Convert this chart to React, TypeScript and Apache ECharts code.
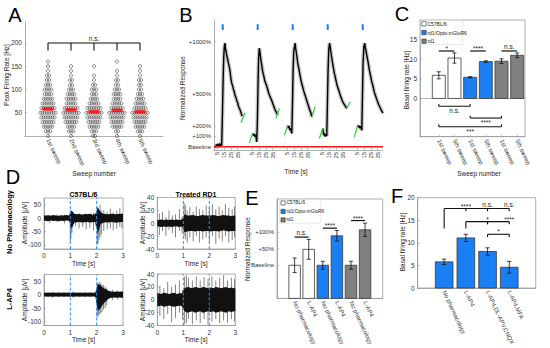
import React, { useEffect, useRef } from "react";
import * as echarts from "echarts";

const FONT = "'Liberation Sans', Arial, Helvetica, sans-serif";
const BLUE = "#1a7ff2";
const GRAY = "#808080";
const WHITE = "#ffffff";

// ---------------- Panel A: peak firing rate per sweep ----------------
const sweepNames = ["1st sweep", "2nd sweep", "3rd sweep", "4th sweep", "5th sweep"];
const rateLevels = [0, 10, 20, 30, 40, 50, 60, 70, 80, 90, 100, 110, 120, 130, 140, 150, 160];
const countsSweep1 = [1, 3, 5, 6, 7, 8, 7, 6, 5, 4, 4, 3, 2, 2, 1, 1, 1];
const countsSweep2 = [1, 3, 4, 6, 7, 8, 7, 5, 5, 4, 3, 2, 2, 1, 1, 1, 0];
const countsSweep3 = [2, 3, 5, 6, 7, 8, 7, 5, 4, 3, 3, 2, 1, 1, 0, 1, 0];
const countsSweep4 = [1, 2, 5, 6, 7, 8, 6, 5, 4, 4, 3, 2, 2, 1, 1, 0, 1];
const countsSweep5 = [1, 3, 5, 6, 7, 8, 6, 5, 4, 3, 2, 2, 2, 1, 1, 1, 0];
const sweepMeanRates = [58, 56, 52, 55, 52];
const aYTicks = [50, 100, 150, 200];

// ---------------- Panel B: normalized response over 5 sweeps ----------------
const sweepWindow = 52; // seconds reserved per concatenated sweep
const timeTicks = [5, 15, 25, 35];
const stimTime = 12.9;
const responseTicks = [0, 100, 200, 500, 1000];
const traceSweep1 = [[1.5, 10], [2.5, -5], [3.5, 22], [4.5, 5], [5.5, 28], [6.5, 0], [7.5, 15], [8.5, 32], [9.5, 5], [10.5, 22], [11.4, 12], [12.5, 300], [13.5, 620], [14.5, 860], [15.5, 960], [16.3, 985], [17, 935], [18, 905], [18.8, 870], [19.8, 845], [21.3, 800], [22.5, 765], [23.8, 720], [24.8, 665], [26.3, 605], [27.5, 585], [28.7, 550], [30, 525], [31.2, 490], [32.4, 472], [33.7, 440], [34.9, 425], [36.1, 390], [37.3, 372], [38.6, 352], [39.8, 332], [41.1, 302], [42, 290]];
const traceSweep2 = [[5.5, 127], [6.5, 108], [7.5, 122], [8.5, 98], [9.5, 116], [10.5, 94], [11.4, 48], [12.3, 210], [13.3, 560], [14.3, 850], [15.3, 937], [16.3, 895], [17.3, 842], [18.8, 782], [20.3, 715], [22, 672], [23.7, 620], [25.5, 592], [27.2, 556], [29.2, 512], [31.2, 477], [33.6, 442], [36.1, 398], [38.1, 362], [40.1, 334], [42.6, 302]];
const traceSweep3 = [[5.5, 200], [6.5, 178], [7.5, 196], [8.5, 160], [9.5, 176], [10.5, 150], [11.5, 128], [12.4, 360], [13.4, 710], [14.4, 905], [16.4, 985], [17.4, 930], [18.8, 872], [20.3, 800], [22, 742], [23.7, 682], [25.5, 622], [27.2, 582], [29.2, 532], [31.2, 492], [33.6, 442], [36.1, 392], [38.1, 352], [40.1, 318], [41.2, 286]];
const traceSweep4 = [[5.5, 174], [6.5, 128], [7.5, 110], [8.5, 126], [9.5, 98], [10.5, 120], [11.5, 104], [12.4, 400], [13.4, 722], [14.4, 918], [15.6, 985], [16.6, 948], [18, 882], [19.5, 822], [21, 762], [22.7, 700], [24.4, 652], [26.2, 600], [28, 562], [30, 522], [32, 482], [34.2, 442], [36.5, 412], [38.8, 390], [41.2, 366]];
const traceSweep5 = [[5.5, 206], [6.5, 188], [7.5, 200], [8.5, 178], [9.5, 196], [10.5, 175], [11.5, 158], [12.4, 450], [13.4, 800], [14.6, 950], [15.8, 985], [16.8, 940], [18, 902], [19.5, 850], [21, 800], [22.7, 732], [24.4, 680], [26.2, 622], [28, 580], [30, 522], [32, 482], [34.2, 442], [36.5, 402], [38.8, 372], [41, 342], [43, 320]];
const fitStartLines = [[0.5, 38, 5.5, 127], [0.5, 111, 5.5, 206], [0.5, 79, 5.5, 174], [0.5, 95, 5.5, 206]]; // sweeps 2..5
const fitEndLines = [[40.1, 229, 46, 324], [40.1, 270, 45.1, 366], [41.2, 280, 46.1, 381], [41.2, 366, 46.1, 429]]; // sweeps 1..4

// ---------------- Panel C: basal firing rate, 1st vs 5th sweep ----------------
const cCategories = ["1st sweep", "5th sweep", "1st sweep", "5th sweep", "1st sweep", "5th sweep"];
const cMeans = [5.9, 10.3, 5.4, 9.4, 9.5, 11.0];
const cErrors = [0.9, 1.3, 0.15, 0.2, 0.6, 0.6];
const cYTicks = [0, 5, 10, 15];
const groupNames = ["C57BL/6", "rd1/Opto-mGluR6", "rd1"];
const cSigTop = [[1, 2, 12.1], [3, 4, 12.1], [5, 6, 12.1]];
const cSigTopText = ["*", "****", "n.s."];
const cSigBottom = [[1, 3, -2.0], [3, 5, -5.0], [1, 5, -7.2]];
const cSigBottomText = ["n.s.", "****", "***"];

// ---------------- Panel D: example recordings (envelopes per 0.1 s + spikes) ----------------
const binWidth = 0.1;
const d1High = [10, 11, 9, 12, 10, 9, 11, 10, 12, 10, 28, 16, 14, 15, 13, 15, 14, 16, 13, 15, 40, 22, 16, 15, 14, 16, 15, 14, 16, 15];
const d1Low = [-10, -12, -9, -11, -10, -12, -10, -11, -9, -10, -40, -17, -15, -14, -16, -15, -14, -16, -15, -14, -55, -22, -17, -15, -16, -14, -15, -17, -15, -14];
const d1Spikes = [[0.22, -18, 12], [0.5, -15, 14], [0.78, -20, 13], [1.0, -88, 30], [1.02, -75, 20], [1.06, -55, 18], [1.2, -30, 16], [1.33, -38, 18], [1.47, -33, 15], [1.6, -42, 18], [1.74, -35, 16], [1.88, -45, 20], [1.97, -30, 18], [2.02, -100, 42], [2.05, -95, 35], [2.09, -80, 25], [2.13, -70, 50], [2.18, -60, 28], [2.27, -48, 30], [2.4, -42, 24], [2.52, -38, 35], [2.63, -45, 22], [2.76, -40, 28], [2.88, -32, 38], [2.96, -38, 20]];
const d2High = [5, 6, 5, 6, 5, 6, 5, 6, 5, 6, 14, 12, 12, 13, 12, 11, 12, 13, 12, 12, 12, 13, 12, 11, 12, 13, 12, 12, 11, 12];
const d2Low = [-5, -6, -5, -6, -5, -6, -5, -5, -6, -5, -14, -13, -12, -12, -13, -12, -12, -13, -12, -12, -13, -12, -12, -13, -12, -11, -12, -13, -12, -12];
const d2Spikes = [[0.08, -18, 15], [0.2, -12, 18], [0.33, -20, 10], [0.45, -10, 20], [0.58, -15, 12], [0.7, -22, 14], [0.85, -12, 22], [0.95, -16, 10], [1.03, -20, 32], [1.08, -25, 28], [1.15, -30, 20], [1.25, -22, 25], [1.38, -28, 18], [1.5, -20, 26], [1.62, -30, 22], [1.75, -25, 20], [1.88, -22, 28], [2.0, -28, 24], [2.12, -20, 30], [2.25, -32, 22], [2.38, -24, 26], [2.5, -28, 20], [2.62, -20, 30], [2.75, -30, 24], [2.88, -26, 22], [2.97, -22, 26]];
const d3High = [7, 8, 7, 8, 7, 8, 7, 8, 7, 8, 7, 8, 7, 8, 7, 8, 7, 8, 7, 8, 40, 35, 25, 20, 14, 12, 11, 12, 11, 12];
const d3Low = [-7, -8, -7, -8, -7, -8, -7, -8, -7, -8, -7, -8, -7, -8, -7, -8, -7, -8, -7, -8, -60, -50, -35, -25, -15, -12, -11, -12, -11, -12];
const d3Spikes = [[0.3, -12, 10], [1.1, -12, 11], [2.02, -85, 45], [2.06, -80, 40], [2.1, -75, 48], [2.15, -70, 42], [2.2, -65, 38], [2.26, -55, 35], [2.32, -50, 30], [2.38, -40, 25], [2.6, -20, 18], [2.8, -18, 15]];
const d4High = [10, 9, 11, 10, 9, 10, 11, 9, 10, 10, 18, 20, 19, 18, 20, 19, 18, 20, 19, 18, 19, 18, 20, 19, 18, 19, 20, 18, 19, 18];
const d4Low = [-10, -9, -11, -10, -9, -10, -11, -10, -9, -10, -18, -20, -19, -18, -20, -19, -18, -20, -19, -18, -19, -18, -20, -19, -18, -19, -20, -18, -19, -18];
const d4Spikes = [[0.1, -25, 22], [0.25, -30, 18], [0.4, -22, 28], [0.55, -35, 20], [0.7, -28, 24], [0.85, -20, 30], [0.97, -30, 15], [1.05, -38, 36], [1.12, -36, 38], [1.2, -30, 34], [1.35, -38, 30], [1.5, -32, 36], [1.65, -36, 30], [1.8, -30, 35], [1.95, -38, 32], [2.1, -34, 36], [2.25, -30, 30], [2.4, -36, 34], [2.55, -32, 38], [2.7, -36, 30], [2.85, -30, 34], [2.97, -34, 32]];
const lightTimes = [1, 2];
const dBigTicks = [-100, -50, 0, 50];

// ---------------- Panel E: normalized response with L-AP4 ----------------
const eCategories = ["No pharmacology", "L-AP4", "No pharmacology", "L-AP4", "No pharmacology", "L-AP4"];
const eMeans = [1.0, 1.48, 1.0, 1.89, 1.0, 2.07];
const eErrors = [0.22, 0.3, 0.12, 0.16, 0.12, 0.2];
const eYTicks = [1, 1.5, 2];
const eYLabels = ["Baseline", "+50%", "+100%"];
const eSig = [[1, 2, 1.85], [3, 4, 2.12], [5, 6, 2.35]];
const eSigText = ["n.s.", "****", "****"];

// ---------------- Panel F: basal firing rate with blockers ----------------
const fCategories = ["No pharmacology", "L-AP4", "L-AP4,DL-APV,CNQX", "L-AP4,MFA"];
const fMeans = [5.8, 11.1, 8.1, 4.6];
const fErrors = [0.6, 0.8, 0.8, 1.3];
const fBrackets = [[1, 4, 17.6, 13.2], [2, 4, 14.7, 13.2], [3, 4, 11.9, 11.3]];
const fSigPos = [[2, 17.6], [3, 17.6], [4, 17.6], [3, 14.7], [4, 14.7], [3.5, 11.9]];
const fSigText = ["****", "n.s.", "n.s.", "*", "****", "*"];

// ======================================================================
const lbl = (extra: any = {}) => ({ fontSize: 6.5, color: "#333", fontFamily: FONT, margin: 3, ...extra });
const axLine = { show: true, onZero: false, lineStyle: { color: "#9a9a9a", width: 0.8 } };
const tick = (cv?: number[]) => ({ show: true, inside: true, length: 2, lineStyle: { color: "#9a9a9a", width: 0.6 }, ...(cv ? { customValues: cv } : {}) });
const ax = (g: number, min: number, max: number, label: any, tickVals?: number[], more: any = {}) => ({
  type: "value", gridIndex: g, min, max, splitLine: { show: false }, axisLine: axLine, axisTick: tick(tickVals), axisLabel: label, ...more,
});

const segSeries = (g: number, data: number[][], color: string, width: number, dash?: number[], z = 3) => ({
  type: "custom", xAxisIndex: g, yAxisIndex: g, silent: true, z, data,
  renderItem: (_p: any, api: any) => {
    const a = api.coord([api.value(0), api.value(1)]);
    const b = api.coord([api.value(2), api.value(3)]);
    return { type: "line", shape: { x1: a[0], y1: a[1], x2: b[0], y2: b[1] }, style: { stroke: color, lineWidth: width, lineDash: dash || null } };
  },
});

const textSeries = (g: number, pos: number[][], labels: string[], size: number, vAlign: string, dy: number) => ({
  type: "custom", xAxisIndex: g, yAxisIndex: g, silent: true, z: 5, data: pos,
  renderItem: (p: any, api: any) => {
    const c = api.coord([api.value(0), api.value(1)]);
    const txt = labels[p.dataIndex];
    const starShift = txt.indexOf("*") >= 0 && vAlign === "bottom" ? 2 : 0;
    return { type: "text", x: c[0], y: c[1] + dy + starShift, style: { text: txt, fontSize: size, fontFamily: FONT, fill: "#222", align: "center", verticalAlign: vAlign } };
  },
});

const barSeries = (g: number, vals: number[], colors: string[], w: number) => ({
  type: "custom", xAxisIndex: g, yAxisIndex: g, silent: true, z: 2, data: vals.map((v, i) => [i + 1, v]),
  renderItem: (p: any, api: any) => {
    const top = api.coord([api.value(0), api.value(1)]);
    const bot = api.coord([api.value(0), 0]);
    return { type: "rect", shape: { x: top[0] - w / 2, y: top[1], width: w, height: bot[1] - top[1] }, style: { fill: colors[p.dataIndex], stroke: "#3a3a3a", lineWidth: 0.8 } };
  },
});

const errSeries = (g: number, means: number[], errs: number[], cap: number) => ({
  type: "custom", xAxisIndex: g, yAxisIndex: g, silent: true, z: 4, data: means.map((m, i) => [i + 1, m, errs[i]]),
  renderItem: (_p: any, api: any) => {
    const x = api.value(0), m = api.value(1), e = api.value(2);
    const hi = api.coord([x, m + e]);
    const lo = api.coord([x, m - e]);
    const st = { stroke: "#111", lineWidth: 0.8 };
    return {
      type: "group", children: [
        { type: "line", shape: { x1: hi[0], y1: hi[1], x2: lo[0], y2: lo[1] }, style: st },
        { type: "line", shape: { x1: hi[0] - cap, y1: hi[1], x2: hi[0] + cap, y2: hi[1] }, style: st },
        { type: "line", shape: { x1: lo[0] - cap, y1: lo[1], x2: lo[0] + cap, y2: lo[1] }, style: st },
      ],
    };
  },
});

const bandSeries = (g: number, hi: number[], lo: number[]) => ({
  type: "custom", xAxisIndex: g, yAxisIndex: g, silent: true, z: 2, data: [[0, 0]],
  renderItem: (_p: any, api: any) => {
    const n = hi.length;
    const pts: number[][] = [api.coord([0, hi[0]])];
    for (let i = 0; i < n; i++) pts.push(api.coord([(i + 0.5) * binWidth, hi[i]]));
    pts.push(api.coord([n * binWidth, hi[n - 1]]));
    pts.push(api.coord([n * binWidth, lo[n - 1]]));
    for (let i = n - 1; i >= 0; i--) pts.push(api.coord([(i + 0.5) * binWidth, lo[i]]));
    pts.push(api.coord([0, lo[0]]));
    return { type: "polygon", shape: { points: pts }, style: { fill: "#111" } };
  },
});

const gtext = (x: number, y: number, text: string, size: number, o: any = {}) => ({
  type: "text", x, y, rotation: o.rot || 0, silent: true, z: 100,
  style: { text, fontSize: size, fontFamily: FONT, fontWeight: o.bold ? "bold" : "normal", fill: o.fill || "#222", align: o.align || "center", verticalAlign: "middle" },
});

function buildOption() {
  const box = { show: true, borderColor: "#9a9a9a", borderWidth: 0.8 };
  const grids = [
    { left: 25, top: 22, width: 138, height: 114 }, // A
    { left: 214, top: 20, width: 169, height: 130 }, // B
    { left: 420, top: 20, width: 105, height: 116.7, ...box }, // C
    { left: 44, top: 198, width: 79, height: 51, ...box }, // D1
    { left: 157.3, top: 197.5, width: 78, height: 51.5, ...box }, // D2
    { left: 44, top: 274.5, width: 79, height: 51, ...box }, // D3
    { left: 157.3, top: 274, width: 78, height: 51.5, ...box }, // D4
    { left: 277, top: 199, width: 105.7, height: 100, ...box }, // E
    { left: 417.7, top: 197.7, width: 118, height: 90.6, ...box }, // F
  ];

  const idx5 = [1, 2, 3, 4, 5];
  const idx6 = [1, 2, 3, 4, 5, 6];
  const idx4 = [1, 2, 3, 4];
  const bTickVals: number[] = [];
  for (let k = 0; k < 5; k++) timeTicks.forEach((t) => bTickVals.push(k * sweepWindow + t));

  const xAxis: any[] = [
    ax(0, 0, 6, lbl({ customValues: idx5, formatter: (v: number) => sweepNames[Math.round(v) - 1], rotate: -65, fontSize: 6 }), idx5),
    ax(1, 0, 251, lbl({ customValues: bTickVals, formatter: (v: number) => String(Math.round(v) % sweepWindow), rotate: 90, fontSize: 5.5, margin: 2 }), bTickVals),
    ax(2, -0.2, 6.5, lbl({ customValues: idx6, formatter: (v: number) => cCategories[Math.round(v) - 1], rotate: -65, fontSize: 6 }), idx6),
    ax(3, 0, 3, lbl(), undefined, { interval: 1 }),
    ax(4, 0, 3, lbl(), undefined, { interval: 1 }),
    ax(5, 0, 3, lbl(), undefined, { interval: 1 }),
    ax(6, 0, 3, lbl(), undefined, { interval: 1 }),
    ax(7, -0.25, 7.25, lbl({ customValues: idx6, formatter: (v: number) => eCategories[Math.round(v) - 1], rotate: -65, fontSize: 6 }), idx6),
    ax(8, -0.22, 5.22, lbl({ customValues: idx4, formatter: (v: number) => fCategories[Math.round(v) - 1], rotate: -65, fontSize: 6 }), idx4),
  ];
  const yAxis: any[] = [
    ax(0, 0, 245, lbl({ customValues: aYTicks }), aYTicks),
    ax(1, -30, 1205, lbl({ customValues: responseTicks, formatter: (v: number) => (v === 0 ? "Baseline" : "+" + v + "%"), fontSize: 6 }), responseTicks),
    ax(2, -9.75, 20, lbl({ customValues: cYTicks }), cYTicks),
    ax(3, -115, 75, lbl({ customValues: dBigTicks }), dBigTicks),
    ax(4, -40, 40, lbl(), undefined, { interval: 20 }),
    ax(5, -115, 75, lbl({ customValues: dBigTicks }), dBigTicks),
    ax(6, -40, 40, lbl(), undefined, { interval: 20 }),
    ax(7, 0, 3, lbl({ customValues: eYTicks, formatter: (v: number) => eYLabels[eYTicks.indexOf(v)] ?? "", fontSize: 6 }), eYTicks),
    ax(8, 0, 20, lbl(), undefined, { interval: 5 }),
  ];

  const series: any[] = [];

  // ---- A
  const countsBySweep = [countsSweep1, countsSweep2, countsSweep3, countsSweep4, countsSweep5];
  const swarm: number[][] = [];
  countsBySweep.forEach((counts, s) =>
    counts.forEach((n, j) => {
      for (let i = 0; i < n; i++) swarm.push([s + 1 + (i - (n - 1) / 2) * 0.095, rateLevels[j]]);
    })
  );
  series.push({
    type: "scatter", xAxisIndex: 0, yAxisIndex: 0, data: swarm, symbol: "circle", symbolSize: 3.2, silent: true, z: 2,
    itemStyle: { color: "rgba(0,0,0,0)", borderColor: "rgba(10,10,10,0.75)", borderWidth: 0.8 },
  });
  series.push({
    type: "scatter", xAxisIndex: 0, yAxisIndex: 0, data: sweepMeanRates.map((m, i) => [i + 1, m]), symbol: "rect", symbolSize: [11, 3.4], silent: true, z: 4,
    itemStyle: { color: "#ff0000" },
  });
  const aBracket: number[][] = [[1, 200, 5, 200]];
  idx5.forEach((x) => aBracket.push([x, 200, x, 184]));
  series.push(segSeries(0, aBracket, "#111", 1.1));
  series.push(textSeries(0, [[3, 203]], ["n.s."], 6.5, "bottom", 0));

  // ---- B
  const traces = [traceSweep1, traceSweep2, traceSweep3, traceSweep4, traceSweep5];
  traces.forEach((tr, k) => {
    const d = tr.map(([t, v]) => [k * sweepWindow + t, v]);
    series.push({ type: "line", xAxisIndex: 1, yAxisIndex: 1, data: d, showSymbol: false, silent: true, z: 2, lineStyle: { color: "#c6c6c6", width: 4 } });
    series.push({ type: "line", xAxisIndex: 1, yAxisIndex: 1, data: d, showSymbol: false, silent: true, z: 3, lineStyle: { color: "#000", width: 1.4 } });
  });
  series.push(segSeries(1, [[0, 0, 251, 0]], "#ff1a1a", 1.5, undefined, 4));
  const greens: number[][] = [];
  fitStartLines.forEach((l, i) => greens.push([(i + 1) * sweepWindow + l[0], l[1], (i + 1) * sweepWindow + l[2], l[3]]));
  fitEndLines.forEach((l, i) => greens.push([i * sweepWindow + l[0], l[1], i * sweepWindow + l[2], l[3]]));
  series.push(segSeries(1, greens, "#2fd12f", 1.2, undefined, 5));
  series.push(segSeries(1, [0, 1, 2, 3, 4].map((k) => [k * sweepWindow + stimTime, 1110, k * sweepWindow + stimTime, 1165]), BLUE, 2, undefined, 5));

  // ---- C
  const groupColors = [WHITE, WHITE, BLUE, BLUE, GRAY, GRAY];
  series.push(segSeries(2, [[-0.2, 0, 6.5, 0]], "#9a9a9a", 0.8, undefined, 1));
  series.push(barSeries(2, cMeans, groupColors, 13));
  series.push(errSeries(2, cMeans, cErrors, 2));
  series.push(segSeries(2, cSigTop.map(([a, b, y]) => [a, y, b, y]), "#111", 1.2));
  series.push(textSeries(2, cSigTop.map(([a, b, y]) => [(a + b) / 2, y]), cSigTopText, 6.5, "bottom", -1));
  const cb: number[][] = [];
  cSigBottom.forEach(([a, b, y]) => {
    cb.push([a, y, b, y]);
    cb.push([a, y, a, y + 0.6]);
    cb.push([b, y, b, y + 0.6]);
  });
  series.push(segSeries(2, cb, "#111", 1.1));
  series.push(textSeries(2, cSigBottom.map(([a, b, y]) => [(a + b) / 2, y]), cSigBottomText, 6.5, "top", 1));

  // ---- D
  const dData = [
    [d1High, d1Low, d1Spikes, -115, 75],
    [d2High, d2Low, d2Spikes, -40, 40],
    [d3High, d3Low, d3Spikes, -115, 75],
    [d4High, d4Low, d4Spikes, -40, 40],
  ] as any[];
  dData.forEach(([hi, lo, sp, ymin, ymax], i) => {
    const g = 3 + i;
    series.push(segSeries(g, sp.map(([t, a, b]: number[]) => [t, a, t, b]), "#333", 0.6, undefined, 2));
    series.push(bandSeries(g, hi, lo));
    series.push(segSeries(g, lightTimes.map((t) => [t, ymin, t, ymax]), "#1e8fff", 1, [3, 2], 6));
  });

  // ---- E
  series.push(barSeries(7, eMeans, groupColors, 11.5));
  series.push(errSeries(7, eMeans, eErrors, 2));
  series.push(segSeries(7, eSig.map(([a, b, y]) => [a, y, b, y]), "#111", 1.2));
  series.push(textSeries(7, eSig.map(([a, b, y]) => [(a + b) / 2, y]), eSigText, 6.5, "bottom", -1));

  // ---- F
  series.push(barSeries(8, fMeans, [BLUE, BLUE, BLUE, BLUE], 17.7));
  series.push(errSeries(8, fMeans, fErrors, 2.2));
  const fb: number[][] = [];
  fBrackets.forEach(([a, b, y, drop]) => {
    fb.push([a, y, b, y]);
    fb.push([a, y, a, drop]);
    for (let x = a + 1; x <= b; x++) fb.push([x, y, x, y - 0.6]);
  });
  series.push(segSeries(8, fb, "#111", 1.1));
  series.push(textSeries(8, fSigPos, fSigText, 6.5, "bottom", -1));

  // ---- graphic text & legends
  const legend = (x: number, y0: number, step: number, size: number, fs: number, w: number) => {
    const cols = [WHITE, BLUE, GRAY];
    const els: any[] = [
      { type: "rect", shape: { x: x - 1.2, y: y0 - 1.2, width: w, height: step * 2 + size + 2.4 }, style: { fill: "#fff", stroke: "#d0d0d0", lineWidth: 0.5 }, silent: true, z: 90 },
    ];
    groupNames.forEach((n, i) => {
      els.push({ type: "rect", shape: { x, y: y0 + i * step, width: size, height: size }, style: { fill: cols[i], stroke: "#333", lineWidth: 0.6 }, silent: true, z: 95 });
      els.push(gtext(x + size + 1.2, y0 + i * step + size / 2, n, fs, { align: "left" }));
    });
    return els;
  };

  const R = Math.PI / 2;
  const graphic: any[] = [
    gtext(15, 15, "A", 20, { fill: "#000" }),
    gtext(186, 15, "B", 20, { fill: "#000" }),
    gtext(402, 14, "C", 20, { fill: "#000" }),
    gtext(13, 177, "D", 20, { fill: "#000" }),
    gtext(252, 198, "E", 20, { fill: "#000" }),
    gtext(397, 196, "F", 20, { fill: "#000" }),
    gtext(6.5, 75, "Peak Firing Rate [Hz]", 6.5, { rot: R }),
    gtext(94, 173, "Sweep number", 6.5),
    gtext(182, 88, "Normalized Response", 6.5, { rot: R }),
    gtext(296, 171, "Time [s]", 6.5),
    gtext(406, 80, "Basal firing rate [Hz]", 6.5, { rot: R }),
    gtext(479, 173, "Sweep number", 6.5),
    gtext(9.5, 222, "No Pharmacology", 7.5, { rot: R, bold: true, fill: "#000" }),
    gtext(9.5, 299, "L-AP4", 7.5, { rot: R, bold: true, fill: "#000" }),
    gtext(83.5, 194, "C57BL/6", 7, { bold: true, fill: "#000" }),
    gtext(196, 194, "Treated RD1", 7, { bold: true, fill: "#000" }),
    gtext(24, 223, "Amplitude [μV]", 6.5, { rot: R }),
    gtext(24, 300, "Amplitude [μV]", 6.5, { rot: R }),
    gtext(142.5, 223, "Amplitude [μV]", 6.5, { rot: R }),
    gtext(142.5, 300, "Amplitude [μV]", 6.5, { rot: R }),
    gtext(83.5, 263, "Time [s]", 6.5),
    gtext(196, 263, "Time [s]", 6.5),
    gtext(83.5, 339, "Time [s]", 6.5),
    gtext(196, 339, "Time [s]", 6.5),
    gtext(247.5, 249, "Normalized Response", 6.5, { rot: R }),
    gtext(402.5, 242, "Basal firing rate [Hz]", 6.5, { rot: R }),
    ...legend(421.8, 21.6, 8.7, 4.4, 5, 42),
    ...legend(281, 200.8, 8.5, 4.2, 4.8, 41),
  ];

  return { animation: false, backgroundColor: "#fff", grid: grids, xAxis, yAxis, series, graphic };
}

export default function App() {
  const ref = useRef<HTMLDivElement>(null);
  useEffect(() => {
    const chart = echarts.init(ref.current!, null, { renderer: "svg" });
    chart.setOption(buildOption() as any);
    return () => chart.dispose();
  }, []);
  return <div ref={ref} style={{ position: "absolute", left: 0, top: 0, width: 550, height: 348, background: "#fff" }} />;
}
